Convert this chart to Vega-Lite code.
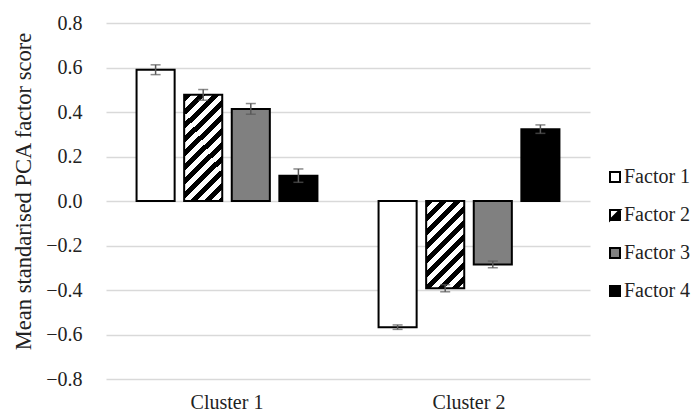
{
  "$schema": "https://vega.github.io/schema/vega-lite/v6.json",
  "width": 484,
  "height": 356,
  "autosize": {"type": "none"},
  "padding": {"left": 106, "top": 23, "right": 106, "bottom": 33},
  "background": "white",
  "config": {
    "view": {"stroke": null},
    "font": "Liberation Serif",
    "axis": {"labelFont": "Liberation Serif", "titleFont": "Liberation Serif", "labelColor": "#222222", "titleColor": "#222222"},
    "legend": {
      "labelFont": "Liberation Serif",
      "titleFont": "Liberation Serif",
      "symbolOpacity": 1,
      "symbolSize": 100,
      "symbolStrokeWidth": 2,
      "symbolStrokeColor": "black",
      "labelFontSize": 20,
      "labelColor": "#222222",
      "labelOffset": -1,
      "rowPadding": 18,
      "padding": 0
    }
  },
  "data": {
    "values": [
      {"cluster": "Cluster 1", "factor": "Factor 1", "score": 0.590, "lo": 0.568, "hi": 0.612},
      {"cluster": "Cluster 1", "factor": "Factor 2", "score": 0.477, "lo": 0.453, "hi": 0.501},
      {"cluster": "Cluster 1", "factor": "Factor 3", "score": 0.414, "lo": 0.390, "hi": 0.438},
      {"cluster": "Cluster 1", "factor": "Factor 4", "score": 0.114, "lo": 0.084, "hi": 0.144},
      {"cluster": "Cluster 2", "factor": "Factor 1", "score": -0.567, "lo": -0.577, "hi": -0.557},
      {"cluster": "Cluster 2", "factor": "Factor 2", "score": -0.392, "lo": -0.408, "hi": -0.376},
      {"cluster": "Cluster 2", "factor": "Factor 3", "score": -0.285, "lo": -0.300, "hi": -0.270},
      {"cluster": "Cluster 2", "factor": "Factor 4", "score": 0.323, "lo": 0.304, "hi": 0.342}
    ]
  },
  "encoding": {
    "x": {
      "field": "cluster",
      "type": "nominal",
      "scale": {"paddingInner": 0, "paddingOuter": 0},
      "axis": {"title": null, "labelAngle": 0, "domain": false, "ticks": false, "tickSize": 0, "labelPadding": 13, "labelFontSize": 20, "labelFont": "Liberation Serif", "grid": false}
    },
    "xOffset": {
      "field": "factor",
      "type": "nominal",
      "scale": {"paddingInner": 0.2, "paddingOuter": 0.642}
    }
  },
  "layer": [
    {
      "mark": {"type": "bar", "stroke": "black", "strokeWidth": 2},
      "encoding": {
        "y": {
          "field": "score",
          "type": "quantitative",
          "scale": {"domain": [-0.8, 0.8], "nice": false},
          "axis": {
            "title": "Mean standarised PCA factor score",
            "titleFont": "Liberation Serif",
            "titleFontSize": 22.5,
            "titleFontWeight": "normal",
            "titlePadding": 10,
            "titleY": 168,
            "values": [-0.8, -0.6, -0.4, -0.2, 0, 0.2, 0.4, 0.6, 0.8],
            "format": ".1f",
            "labelFont": "Liberation Serif",
            "labelFontSize": 20,
            "labelPadding": 24,
            "domain": false,
            "ticks": false,
            "tickSize": 0,
            "grid": true,
            "gridColor": "#d9d9d9",
            "gridWidth": 1.5
          }
        },
        "fill": {
          "field": "factor",
          "type": "nominal",
          "scale": {
            "domain": ["Factor 1", "Factor 2", "Factor 3", "Factor 4"],
            "range": ["#ffffff", "#000000", "#808080", "#000000"]
          },
          "legend": {"title": null, "orient": "none", "legendX": 499, "legendY": 144, "symbolStrokeColor": "black", "symbolStrokeWidth": 2, "labelFont": "Liberation Serif"},
          "condition": [
            {
              "test": "datum.factor === 'Factor 2' && datum.cluster === 'Cluster 1'",
              "value": {
                "gradient": "linear", "x1": 0, "y1": 0, "x2": 0.430, "y2": 1.204,
                "stops": [
                  {"offset": 0, "color": "#000000"}, {"offset": 0.0485, "color": "#000000"},
                  {"offset": 0.0485, "color": "#ffffff"}, {"offset": 0.097, "color": "#ffffff"},
                  {"offset": 0.097, "color": "#000000"}, {"offset": 0.1455, "color": "#000000"},
                  {"offset": 0.1455, "color": "#ffffff"}, {"offset": 0.194, "color": "#ffffff"},
                  {"offset": 0.194, "color": "#000000"}, {"offset": 0.2425, "color": "#000000"},
                  {"offset": 0.2425, "color": "#ffffff"}, {"offset": 0.291, "color": "#ffffff"},
                  {"offset": 0.291, "color": "#000000"}, {"offset": 0.3395, "color": "#000000"},
                  {"offset": 0.3395, "color": "#ffffff"}, {"offset": 0.388, "color": "#ffffff"},
                  {"offset": 0.388, "color": "#000000"}, {"offset": 0.4365, "color": "#000000"},
                  {"offset": 0.4365, "color": "#ffffff"}, {"offset": 0.485, "color": "#ffffff"},
                  {"offset": 0.485, "color": "#000000"}, {"offset": 0.5335, "color": "#000000"},
                  {"offset": 0.5335, "color": "#ffffff"}, {"offset": 0.582, "color": "#ffffff"},
                  {"offset": 0.582, "color": "#000000"}, {"offset": 0.6305, "color": "#000000"},
                  {"offset": 0.6305, "color": "#ffffff"}, {"offset": 0.679, "color": "#ffffff"},
                  {"offset": 0.679, "color": "#000000"}, {"offset": 0.7275, "color": "#000000"},
                  {"offset": 0.7275, "color": "#ffffff"}, {"offset": 0.776, "color": "#ffffff"},
                  {"offset": 0.776, "color": "#000000"}, {"offset": 0.8245, "color": "#000000"},
                  {"offset": 0.8245, "color": "#ffffff"}, {"offset": 0.873, "color": "#ffffff"},
                  {"offset": 0.873, "color": "#000000"}, {"offset": 0.9215, "color": "#000000"},
                  {"offset": 0.9215, "color": "#ffffff"}, {"offset": 0.97, "color": "#ffffff"},
                  {"offset": 0.97, "color": "#000000"}, {"offset": 1, "color": "#000000"}
                ]
              }
            },
            {
              "test": "datum.factor === 'Factor 2' && datum.cluster === 'Cluster 2'",
              "value": {
                "gradient": "linear", "x1": 0, "y1": 0, "x2": 0.5258, "y2": 1.2066,
                "stops": [
                  {"offset": 0, "color": "#000000"}, {"offset": 0.0559, "color": "#000000"},
                  {"offset": 0.0559, "color": "#ffffff"}, {"offset": 0.1118, "color": "#ffffff"},
                  {"offset": 0.1118, "color": "#000000"}, {"offset": 0.1677, "color": "#000000"},
                  {"offset": 0.1677, "color": "#ffffff"}, {"offset": 0.2236, "color": "#ffffff"},
                  {"offset": 0.2236, "color": "#000000"}, {"offset": 0.2795, "color": "#000000"},
                  {"offset": 0.2795, "color": "#ffffff"}, {"offset": 0.3354, "color": "#ffffff"},
                  {"offset": 0.3354, "color": "#000000"}, {"offset": 0.3913, "color": "#000000"},
                  {"offset": 0.3913, "color": "#ffffff"}, {"offset": 0.4472, "color": "#ffffff"},
                  {"offset": 0.4472, "color": "#000000"}, {"offset": 0.5031, "color": "#000000"},
                  {"offset": 0.5031, "color": "#ffffff"}, {"offset": 0.559, "color": "#ffffff"},
                  {"offset": 0.559, "color": "#000000"}, {"offset": 0.6149, "color": "#000000"},
                  {"offset": 0.6149, "color": "#ffffff"}, {"offset": 0.6708, "color": "#ffffff"},
                  {"offset": 0.6708, "color": "#000000"}, {"offset": 0.7267, "color": "#000000"},
                  {"offset": 0.7267, "color": "#ffffff"}, {"offset": 0.7826, "color": "#ffffff"},
                  {"offset": 0.7826, "color": "#000000"}, {"offset": 0.8385, "color": "#000000"},
                  {"offset": 0.8385, "color": "#ffffff"}, {"offset": 0.8944, "color": "#ffffff"},
                  {"offset": 0.8944, "color": "#000000"}, {"offset": 0.9503, "color": "#000000"},
                  {"offset": 0.9503, "color": "#ffffff"}, {"offset": 1, "color": "#ffffff"}
                ]
              }
            }
          ]
        }
      }
    },
    {
      "transform": [{"filter": "false"}],
      "mark": {"type": "point", "filled": true, "strokeWidth": 2},
      "encoding": {
        "y": {"field": "score", "type": "quantitative"},
        "fill": {"field": "factor", "type": "nominal", "legend": {"title": null, "orient": "none", "legendX": 499, "legendY": 144, "symbolStrokeColor": "black", "symbolStrokeWidth": 2, "labelFont": "Liberation Serif"}},
        "stroke": {
          "field": "factor",
          "type": "nominal",
          "scale": {
            "domain": ["Factor 1", "Factor 2", "Factor 3", "Factor 4"],
            "range": ["#000000", "#000000", "#000000", "#000000"]
          },
          "legend": {"title": null, "orient": "none", "legendX": 499, "legendY": 144, "symbolStrokeWidth": 2, "labelFont": "Liberation Serif"}
        },
        "shape": {
          "field": "factor",
          "type": "nominal",
          "scale": {
            "domain": ["Factor 1", "Factor 2", "Factor 3", "Factor 4"],
            "range": ["square", "M-1,-1H1V1H-1Z M-1,-1L-1,1L1,-1Z", "square", "square"]
          },
          "legend": {"title": null, "orient": "none", "legendX": 499, "legendY": 144, "symbolStrokeColor": "black", "symbolStrokeWidth": 2, "labelFont": "Liberation Serif"}
        }
      }
    },
    {
      "mark": {"type": "rule", "color": "#595959", "strokeWidth": 1.5},
      "encoding": {
        "y": {"field": "lo", "type": "quantitative"},
        "y2": {"field": "hi"}
      }
    },
    {
      "mark": {"type": "tick", "color": "#595959", "thickness": 1.5, "size": 10, "orient": "horizontal"},
      "encoding": {
        "y": {"field": "lo", "type": "quantitative"}
      }
    },
    {
      "mark": {"type": "tick", "color": "#595959", "thickness": 1.5, "size": 10, "orient": "horizontal"},
      "encoding": {
        "y": {"field": "hi", "type": "quantitative"}
      }
    }
  ]
}
